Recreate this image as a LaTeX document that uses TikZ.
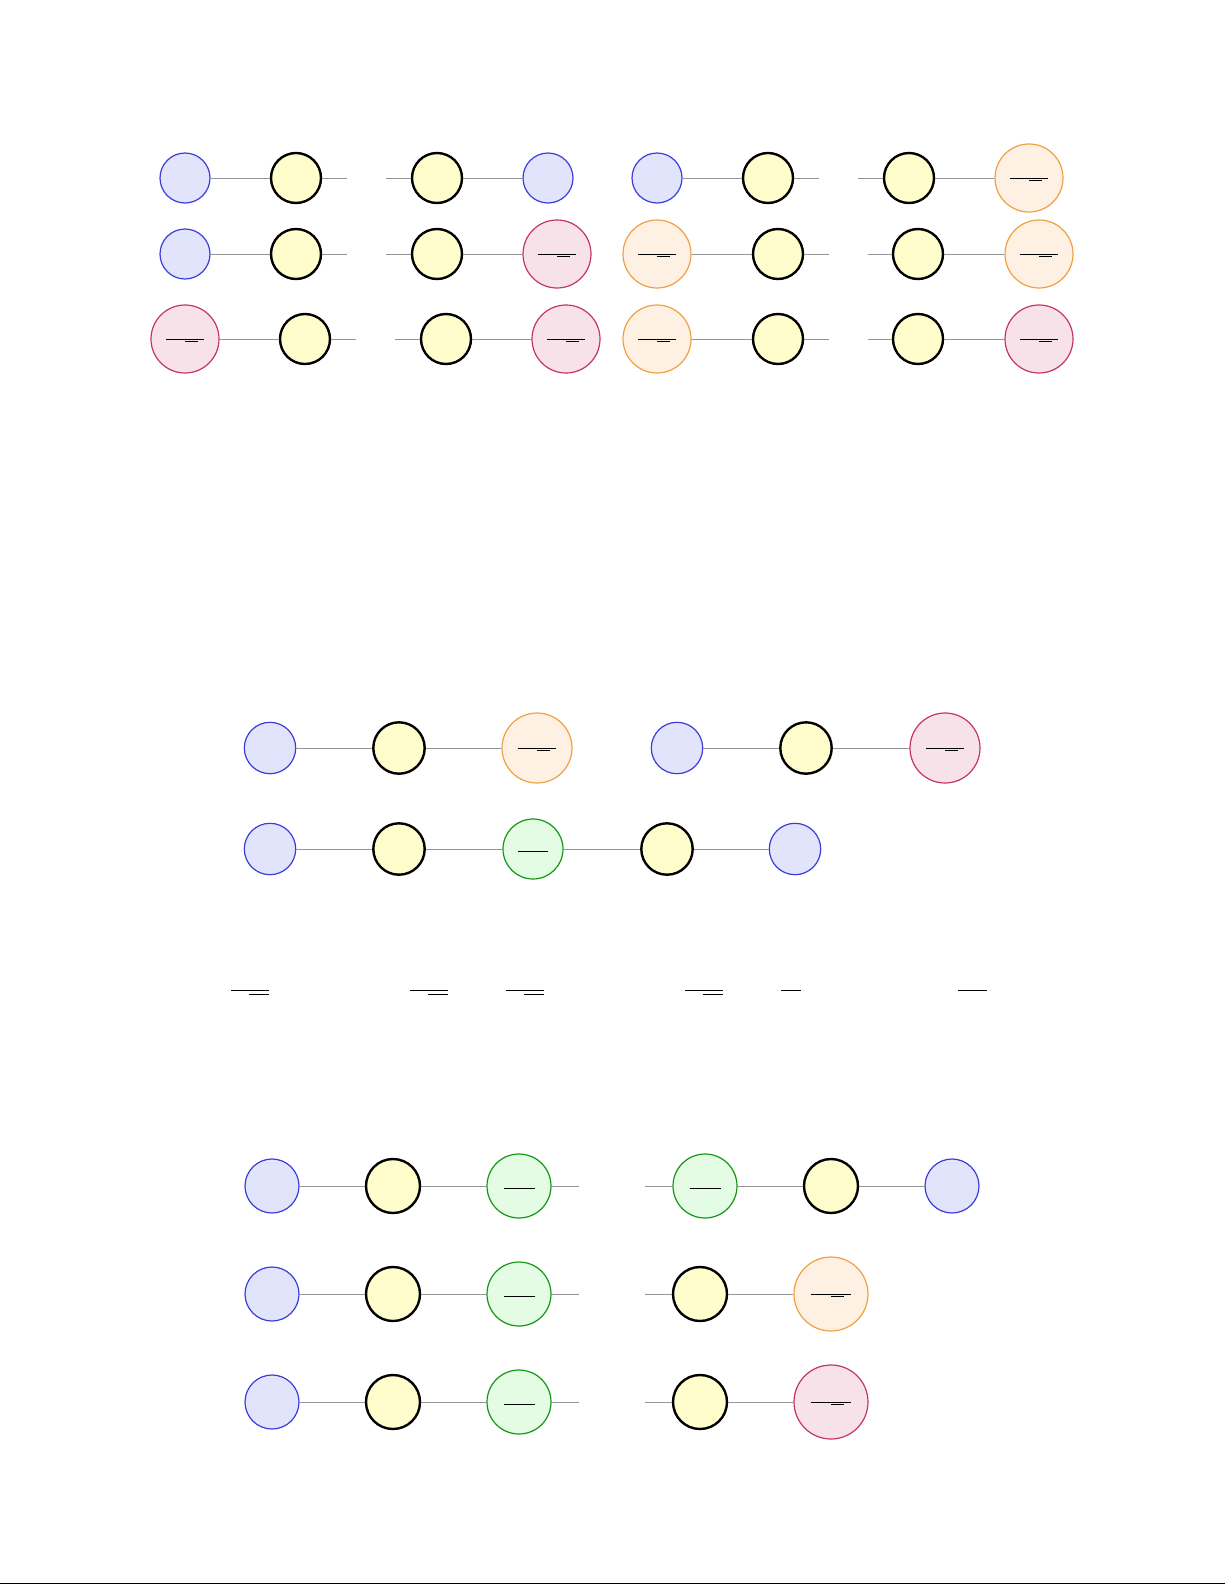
\documentclass[tikz,border=0pt]{standalone}
\definecolor{bluebd}{RGB}{60,60,220}
\definecolor{bluefl}{RGB}{225,228,250}
\definecolor{yellfl}{RGB}{255,253,204}
\definecolor{orbd}{RGB}{240,160,64}
\definecolor{orfl}{RGB}{255,240,228}
\definecolor{redbd}{RGB}{196,52,100}
\definecolor{redfl}{RGB}{248,226,234}
\definecolor{grbd}{RGB}{20,150,20}
\definecolor{grfl}{RGB}{228,252,228}
\definecolor{conn}{RGB}{150,150,150}
\newcommand\fracmk[2]{%
  \draw[fracrule] ([shift={(-#2,0.5)}]#1.center) -- ++(2*#2,0);
  \draw[fracrule] ([shift={(0,2.5)}]#1.center) -- ++(12.5,0);}
\newcommand\singlemk[2]{%
  \draw[fracrule] ([shift={(-#2,2)}]#1.center) -- ++(2*#2,0);}
\tikzset{
  circ/.style={circle, inner sep=0pt, minimum size=#1},
  bluen/.style={circ=#1, draw=bluebd, fill=bluefl, line width=0.6pt},
  yelln/.style={circ=#1, draw=black, fill=yellfl, line width=1.2pt},
  orangen/.style={circ=#1, draw=orbd, fill=orfl, line width=0.6pt},
  redn/.style={circ=#1, draw=redbd, fill=redfl, line width=0.6pt},
  greenn/.style={circ=#1, draw=grbd, fill=grfl, line width=0.6pt},
  link/.style={draw=conn, line width=0.5pt},
  fracrule/.style={draw=black, line width=0.45pt},
  soloRule/.style={draw=black, line width=0.6pt}
}
\begin{document}
\begin{tikzpicture}[x=0.5pt,y=-0.5pt]
\useasboundingbox (0,0) rectangle (1225,1585);
% ---------- top block ----------
% row 1
\node[bluen=25pt] (b11) at (185,178) {};
\node[yelln=25pt] (y11) at (296,178) {};
\coordinate (e11) at (347,178);
\coordinate (s12) at (386,178);
\node[yelln=25pt] (y12) at (437,178) {};
\node[bluen=25pt] (b12) at (548,178) {};
\node[bluen=25pt] (b13) at (657,178) {};
\node[yelln=25pt] (y13) at (768,178) {};
\coordinate (e13) at (819,178);
\coordinate (s14) at (858,178);
\node[yelln=25pt] (y14) at (909,178) {};
\node[orangen=34pt] (o14) at (1029,178) {};
% row 2
\node[bluen=25pt] (b21) at (185,254) {};
\node[yelln=25pt] (y21) at (296,254) {};
\coordinate (e21) at (347,254);
\coordinate (s22) at (386,254);
\node[yelln=25pt] (y22) at (437,254) {};
\node[redn=34pt] (r22) at (557,254) {};
\node[orangen=34pt] (o23) at (657,254) {};
\node[yelln=25pt] (y23) at (778,254) {};
\coordinate (e23) at (829,254);
\coordinate (s24) at (868,254);
\node[yelln=25pt] (y24) at (918,254) {};
\node[orangen=34pt] (o24) at (1039,254) {};
% row 3
\node[redn=34pt] (r31) at (185,339) {};
\node[yelln=25pt] (y31) at (305,339) {};
\coordinate (e31) at (356,339);
\coordinate (s32) at (395,339);
\node[yelln=25pt] (y32) at (446,339) {};
\node[redn=34pt] (r32) at (566,339) {};
\node[orangen=34pt] (o33) at (657,339) {};
\node[yelln=25pt] (y33) at (778,339) {};
\coordinate (e33) at (829,339);
\coordinate (s34) at (868,339);
\node[yelln=25pt] (y34) at (918,339) {};
\node[redn=34pt] (r34) at (1039,339) {};
\path[link] (b11) -- (y11) -- (e11) (s12) -- (y12) -- (b12)
            (b13) -- (y13) -- (e13) (s14) -- (y14) -- (o14)
            (b21) -- (y21) -- (e21) (s22) -- (y22) -- (r22)
            (o23) -- (y23) -- (e23) (s24) -- (y24) -- (o24)
            (r31) -- (y31) -- (e31) (s32) -- (y32) -- (r32)
            (o33) -- (y33) -- (e33) (s34) -- (y34) -- (r34);
\fracmk{o14}{19}
\fracmk{r22}{19}
\fracmk{o23}{19}
\fracmk{o24}{19}
\fracmk{r31}{19}
\fracmk{r32}{19}
\fracmk{o33}{19}
\fracmk{r34}{19}
% ---------- middle block ----------
\node[bluen=25.7pt] (mb1) at (270,748) {};
\node[yelln=25.7pt] (my1) at (399,748) {};
\node[orangen=35pt] (mo1) at (537,748) {};
\node[bluen=25.7pt] (mb2) at (677,748) {};
\node[yelln=25.7pt] (my2) at (806,748) {};
\node[redn=35pt] (mr2) at (945,748) {};
\node[bluen=25.7pt] (mb3) at (270,849) {};
\node[yelln=25.7pt] (my3) at (399,849) {};
\node[greenn=30pt] (mg3) at (533,849) {};
\node[yelln=25.7pt] (my4) at (667,849) {};
\node[bluen=25.7pt] (mb4) at (795,849) {};
\path[link] (mb1) -- (my1) -- (mo1) (mb2) -- (my2) -- (mr2)
            (mb3) -- (my3) -- (mg3) -- (my4) -- (mb4);
\fracmk{mo1}{19.3}
\fracmk{mr2}{19.3}
\singlemk{mg3}{15}
% ---------- standalone rules ----------
\coordinate (f1) at (231,990.3);
\coordinate (f2) at (410,990.3);
\coordinate (f3) at (506,990.3);
\coordinate (f4) at (685,990.3);
\coordinate (f5) at (781,990.3);
\coordinate (f6) at (958,990.3);
\foreach \f in {f1,f2,f3,f4}{
  \draw[soloRule] (\f) -- ++(38,0);
  \draw[soloRule] ([shift={(17.5,4)}]\f) -- ++(20.5,0);
}
\draw[soloRule] (f5) -- ++(20,0);
\draw[soloRule] (f6) -- ++(29,0);
% ---------- bottom block ----------
\node[bluen=27pt] (bb1) at (272,1186) {};
\node[yelln=27pt] (by1) at (393,1186) {};
\node[greenn=32pt] (bg1) at (519,1186) {};
\coordinate (be1) at (579,1186);
\coordinate (bs2) at (645,1186);
\node[greenn=32pt] (bg2) at (705,1186) {};
\node[yelln=27pt] (by2) at (831,1186) {};
\node[bluen=27pt] (bb2) at (952,1186) {};
\node[bluen=27pt] (bb3) at (272,1294) {};
\node[yelln=27pt] (by3) at (393,1294) {};
\node[greenn=32pt] (bg3) at (519,1294) {};
\coordinate (be3) at (579,1294);
\coordinate (bs4) at (645,1294);
\node[yelln=27pt] (by4) at (700,1294) {};
\node[orangen=37pt] (bo4) at (831,1294) {};
\node[bluen=27pt] (bb5) at (272,1402) {};
\node[yelln=27pt] (by5) at (393,1402) {};
\node[greenn=32pt] (bg5) at (519,1402) {};
\coordinate (be5) at (579,1402);
\coordinate (bs6) at (645,1402);
\node[yelln=27pt] (by6) at (700,1402) {};
\node[redn=37pt] (br6) at (831,1402) {};
\path[link] (bb1) -- (by1) -- (bg1) -- (be1) (bs2) -- (bg2) -- (by2) -- (bb2)
            (bb3) -- (by3) -- (bg3) -- (be3) (bs4) -- (by4) -- (bo4)
            (bb5) -- (by5) -- (bg5) -- (be5) (bs6) -- (by6) -- (br6);
\singlemk{bg1}{15.5}
\singlemk{bg2}{15.5}
\singlemk{bg3}{15.5}
\singlemk{bg5}{15.5}
\fracmk{bo4}{20.3}
\fracmk{br6}{20.3}
% ---------- bottom edge line ----------
\draw[line width=0.7pt] (0,1583.5) -- (1225,1583.5);
\end{tikzpicture}
\end{document}
